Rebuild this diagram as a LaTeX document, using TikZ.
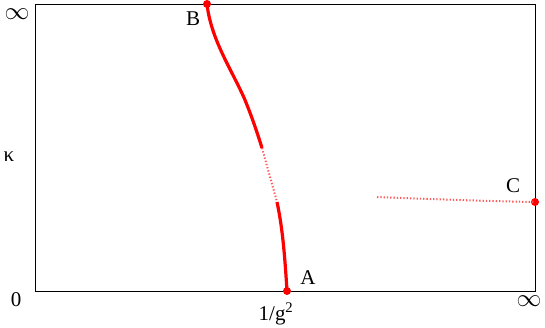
\documentclass[tikz,border=0pt]{standalone}
\usepackage{fontspec}
\setmainfont{Liberation Serif}
\begin{document}
\begin{tikzpicture}[x=1pt,y=-1pt,
  lbl/.style={inner sep=0pt,font=\fontsize{21}{21}\selectfont},
  inf/.style={inner sep=0pt,text height=8pt,text depth=0pt,font=\fontsize{30}{30}\selectfont},
  solidred/.style={red,line width=3.2pt},
  dotred/.style={red!65,line width=2pt,dash pattern=on 1.3pt off 2pt},
  pt/.style={circle,fill=red,inner sep=0pt,minimum size=8pt}]
\useasboundingbox (0,0) rectangle (545,327);
\coordinate (bl) at (35,291);
\coordinate (tr) at (535,4);
\draw[line width=1pt] (bl) rectangle (tr);
% curve B-A
\coordinate (p1) at (262,148);
\coordinate (p2) at (277,202);
\draw[solidred] (207,4) .. controls (211,40) and (232,70) .. (245,100) .. controls (252,117) and (258,135) .. (p1);
\draw[dotred] (p1) .. controls (267,166) and (272,184) .. (p2);
\draw[solidred] (p2) .. controls (283,230) and (285,260) .. (287,291);
% C branch
\coordinate (c0) at (377,197);
\node[pt] (C) at (535,202) {};
\draw[dotred] (c0) .. controls (430,199) and (480,201) .. (C.center);
\node[pt] (B) at (207,4) {};
\node[pt] (A) at (287,291) {};
% labels
\node[lbl] (Bl) at (193,19) {B};
\node[lbl] (Al) at (308,278) {A};
\node[lbl] (Cl) at (513,186) {C};
\node[lbl] (zero) at (16,300) {0};
\node[lbl] (g) at (276,314) {1/g\textsuperscript{2}};
\node[inf] (i1) at (17,15) {$\infty$};
\node[inf] (i2) at (529,302) {$\infty$};
\node[lbl] (k) at (9,157) {κ};
\end{tikzpicture}
\end{document}
